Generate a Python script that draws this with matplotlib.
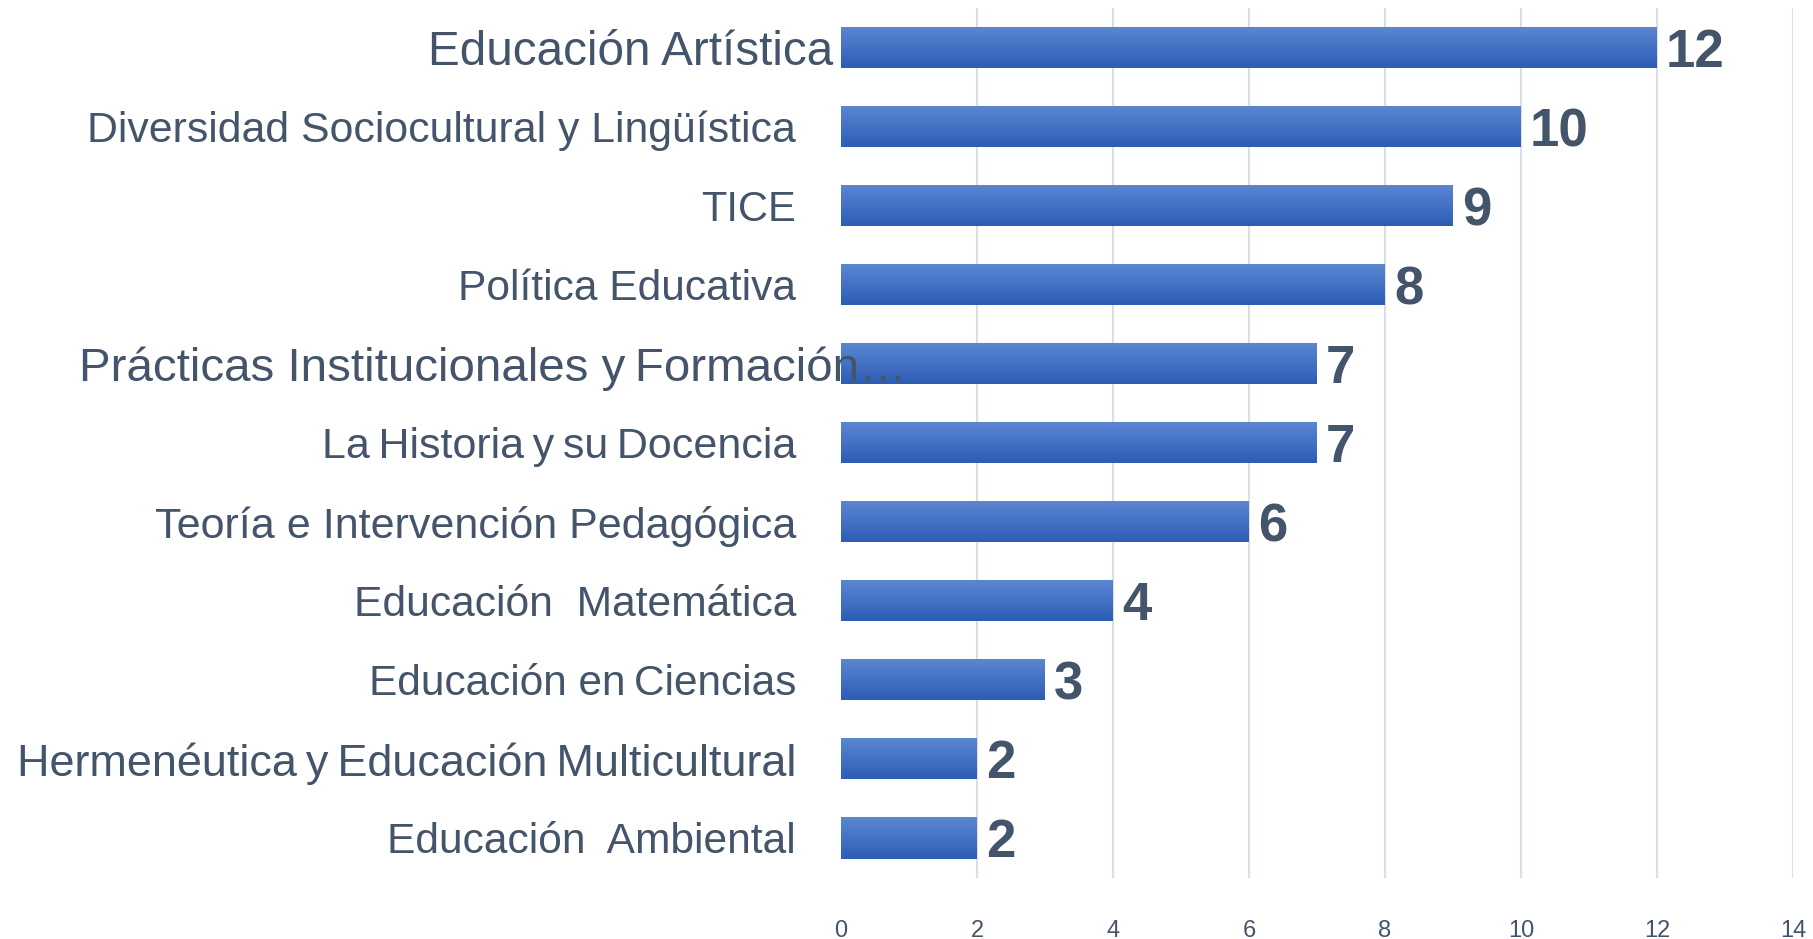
import numpy as np
import matplotlib
matplotlib.use("Agg")
import matplotlib.pyplot as plt
from matplotlib.colors import LinearSegmentedColormap

# ---- data ----
categories = [
    "Educación Artística",
    "Diversidad Sociocultural y Lingüística",
    "TICE",
    "Política Educativa",
    "Prácticas Institucionales y\u2009Formación…",
    "La\u2009Historia\u2009y\u2009su\u2009Docencia",
    "Teoría e Intervención Pedagógica",
    "Educación  Matemática",
    "Educación en\u2009Ciencias",
    "Hermenéutica\u2009y\u2009Educación\u2009Multicultural",
    "Educación  Ambiental",
]
values = [12, 10, 9, 8, 7, 7, 6, 4, 3, 2, 2]
xticks = [0, 2, 4, 6, 8, 10, 12, 14]

# ---- style ----
plt.rcParams['font.family'] = ['Liberation Sans', 'DejaVu Sans']
TEXT = '#44546A'
label_sizes = [34.3, 30.8, 30.0, 30.6, 34.2, 31.0, 31.0, 30.7, 30.5, 32.4, 30.6]
label_pads = [5.8] + [32.4] * 10
label_pads[4] = -47.5

W, H = 1813, 939
fig = plt.figure(figsize=(W / 100, H / 100), dpi=100)
ax = fig.add_axes([841 / W, 1 - 877.5 / H, (1793 - 841) / W, (877.5 - 8) / H])

y = np.arange(len(categories))
bars = ax.barh(y, values, height=0.52, color='#4472C4', zorder=1)

cmap = LinearSegmentedColormap.from_list('g', ['#5C87D2', '#4472C4', '#2C5CB4'])
grad = np.linspace(0, 1, 256).reshape(-1, 1)
for b in bars:
    x0, y0, w, h = b.get_x(), b.get_y(), b.get_width(), b.get_height()
    im = ax.imshow(grad, cmap=cmap, extent=(x0, x0 + w, y0 + h, y0),
                   origin='upper', aspect='auto', zorder=1.1,
                   interpolation='bilinear')
    im.set_clip_path(b)

ax.set_xlim(0, 14)
ax.set_ylim(len(categories) - 0.5, -0.5)

texts = ax.bar_label(bars, labels=[str(v) for v in values], padding=6.5,
                     fontsize=38, fontweight='bold', color=TEXT)
for t in texts:
    t.set_va('center_baseline')

ax.set_xticks(xticks)
ax.tick_params(axis='x', length=0, pad=30.5, labelsize=17, labelcolor=TEXT)
ax.set_yticks(y, categories)
ax.tick_params(axis='y', length=0, pad=32.4, labelcolor=TEXT)
for tk, sz, pd in zip(ax.yaxis.get_major_ticks(), label_sizes, label_pads):
    tk.label1.set_fontsize(sz)
    tk.set_pad(pd)

ax.grid(axis='x', color='#D9DEE8', linewidth=1.5)
ax.set_axisbelow(True)
ax.yaxis.set_zorder(5)
ax.xaxis.get_major_ticks()[0].gridline.set_visible(False)

for s in ax.spines.values():
    s.set_visible(False)

fig.savefig('out.png', dpi=100)
